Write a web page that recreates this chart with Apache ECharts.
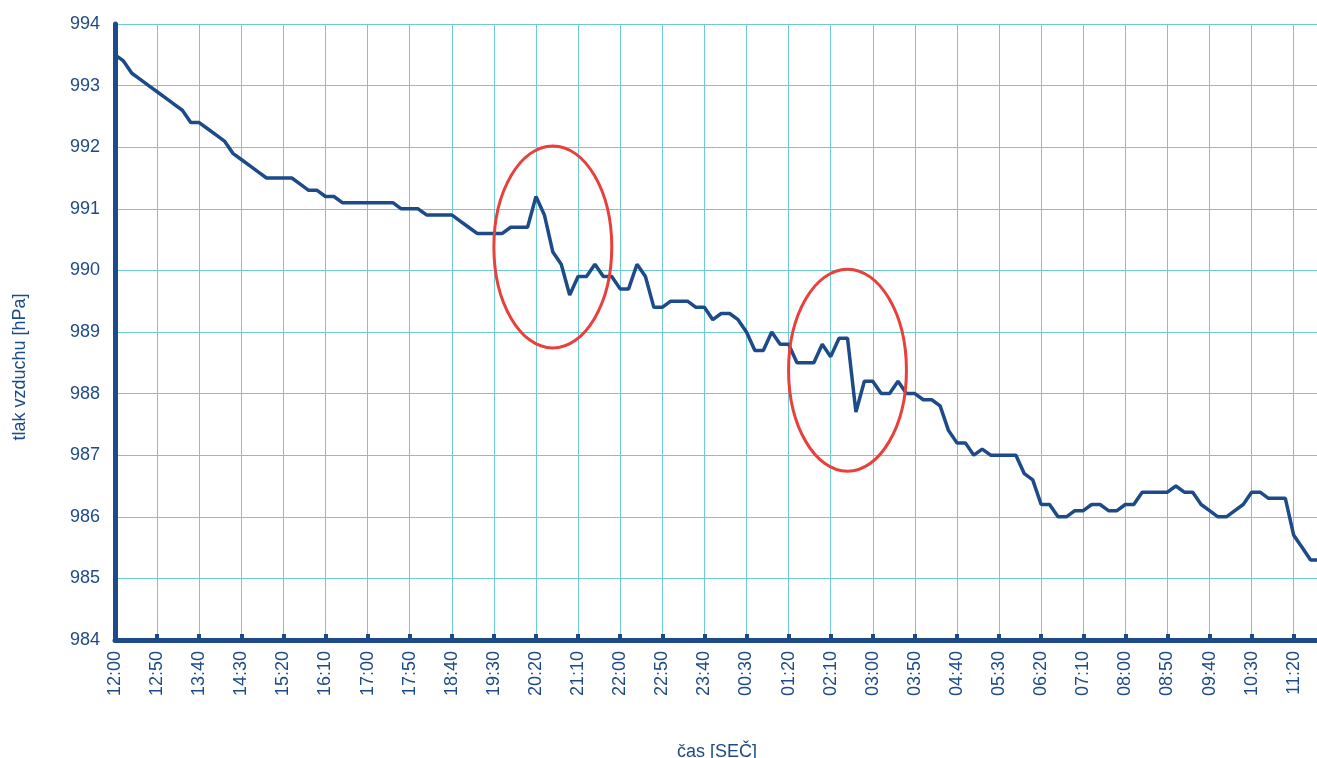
<!DOCTYPE html>
<html>
<head>
<meta charset="utf-8">
<script src="https://cdn.jsdelivr.net/npm/echarts@6/dist/echarts.min.js"></script>
<style>
html,body{margin:0;padding:0;background:#fff;overflow:hidden;}
#chart{width:1317px;height:758px;}
</style>
</head>
<body>
<div id="chart"></div>
<script>
var categories = [
"12:00","12:10","12:20","12:30","12:40","12:50",
"13:00","13:10","13:20","13:30","13:40","13:50",
"14:00","14:10","14:20","14:30","14:40","14:50",
"15:00","15:10","15:20","15:30","15:40","15:50",
"16:00","16:10","16:20","16:30","16:40","16:50",
"17:00","17:10","17:20","17:30","17:40","17:50",
"18:00","18:10","18:20","18:30","18:40","18:50",
"19:00","19:10","19:20","19:30","19:40","19:50",
"20:00","20:10","20:20","20:30","20:40","20:50",
"21:00","21:10","21:20","21:30","21:40","21:50",
"22:00","22:10","22:20","22:30","22:40","22:50",
"23:00","23:10","23:20","23:30","23:40","23:50",
"00:00","00:10","00:20","00:30","00:40","00:50",
"01:00","01:10","01:20","01:30","01:40","01:50",
"02:00","02:10","02:20","02:30","02:40","02:50",
"03:00","03:10","03:20","03:30","03:40","03:50",
"04:00","04:10","04:20","04:30","04:40","04:50",
"05:00","05:10","05:20","05:30","05:40","05:50",
"06:00","06:10","06:20","06:30","06:40","06:50",
"07:00","07:10","07:20","07:30","07:40","07:50",
"08:00","08:10","08:20","08:30","08:40","08:50",
"09:00","09:10","09:20","09:30","09:40","09:50",
"10:00","10:10","10:20","10:30","10:40","10:50",
"11:00","11:10","11:20","11:30","11:40","11:50"
];

var pressure = [
993.5,993.4,993.2,993.1,993.0,992.9,992.8,992.7,992.6,992.4,
992.4,992.3,992.2,992.1,991.9,991.8,991.7,991.6,991.5,991.5,
991.5,991.5,991.4,991.3,991.3,991.2,991.2,991.1,991.1,991.1,
991.1,991.1,991.1,991.1,991.0,991.0,991.0,990.9,990.9,990.9,
990.9,990.8,990.7,990.6,990.6,990.6,990.6,990.7,990.7,990.7,
991.2,990.9,990.3,990.1,989.6,989.9,989.9,990.1,989.9,989.9,
989.7,989.7,990.1,989.9,989.4,989.4,989.5,989.5,989.5,989.4,
989.4,989.2,989.3,989.3,989.2,989.0,988.7,988.7,989.0,988.8,
988.8,988.5,988.5,988.5,988.8,988.6,988.9,988.9,987.7,988.2,
988.2,988.0,988.0,988.2,988.0,988.0,987.9,987.9,987.8,987.4,
987.2,987.2,987.0,987.1,987.0,987.0,987.0,987.0,986.7,986.6,
986.2,986.2,986.0,986.0,986.1,986.1,986.2,986.2,986.1,986.1,
986.2,986.2,986.4,986.4,986.4,986.4,986.5,986.4,986.4,986.2,
986.1,986.0,986.0,986.1,986.2,986.4,986.4,986.3,986.3,986.3,
985.7,985.5,985.3,985.3
];

var yMin = 984, yMax = 994, yStep = 1;
var xLabelEvery = 5;
var yAxisTitle = "tlak vzduchu [hPa]";
var xAxisTitle = "čas [SEČ]";

// annotation ellipses in data coordinates: [categoryIndex, pressure, halfWidthInSteps, halfHeightInHPa]
var highlightEllipses = [
  [52.0, 990.38, 6.5, 1.64],
  [87.1, 988.38, 6.4, 1.64]
];

var dark = "#1d4a88";
var gridCol = "#6ccbd5";
var font = "Liberation Sans, Arial, sans-serif";

var chart = echarts.init(document.getElementById("chart"), null, {renderer: "canvas"});
chart.setOption({
  animation: false,
  backgroundColor: "#ffffff",
  grid: {left: 115, right: -2, top: 24, bottom: 118, containLabel: false, outerBoundsMode: "none"},
  xAxis: [{
    type: "category",
    data: categories,
    boundaryGap: false,
    name: xAxisTitle,
    nameLocation: "middle",
    nameGap: 103,
    nameTextStyle: {color: dark, fontSize: 18, fontFamily: font},
    axisLine: {show: true, onZero: false, lineStyle: {color: dark, width: 5}},
    axisTick: {show: true, inside: true, interval: xLabelEvery - 1, length: 6, lineStyle: {color: dark, width: 4}},
    axisLabel: {interval: xLabelEvery - 1, rotate: 90, margin: 11, color: dark, fontSize: 18, fontFamily: font},
    splitLine: {show: false},
    z: 8
  }, {
    type: "category",
    data: categories,
    boundaryGap: false,
    position: "bottom",
    axisLine: {show: false},
    axisTick: {show: false},
    axisLabel: {show: false},
    splitLine: {show: true, interval: xLabelEvery - 1, lineStyle: {color: gridCol, width: 1}},
    z: 1
  }],
  yAxis: [{
    type: "value",
    min: yMin,
    max: yMax,
    interval: yStep,
    axisLine: {show: true, lineStyle: {color: dark, width: 5}},
    axisTick: {show: false},
    axisLabel: {margin: 15, color: dark, fontSize: 18, fontFamily: font},
    splitLine: {show: false},
    z: 8
  }, {
    type: "value",
    min: yMin,
    max: yMax,
    interval: yStep,
    position: "left",
    axisLine: {show: false},
    axisTick: {show: false},
    axisLabel: {show: false},
    splitLine: {show: true, lineStyle: {color: gridCol, width: 1}},
    z: 1
  }],
  series: [{
    type: "line",
    xAxisIndex: 0,
    yAxisIndex: 0,
    data: pressure,
    showSymbol: false,
    symbol: "none",
    lineStyle: {color: dark, width: 3.5},
    z: 3
  }]
});

var gfx = [];
highlightEllipses.forEach(function (e) {
  var c = chart.convertToPixel({xAxisIndex: 0, yAxisIndex: 0}, [e[0], e[1]]);
  var a = chart.convertToPixel({xAxisIndex: 0, yAxisIndex: 0}, [e[0] + e[2], e[1] + e[3]]);
  gfx.push({
    type: "ellipse",
    shape: {cx: c[0], cy: c[1], rx: Math.abs(a[0] - c[0]), ry: Math.abs(c[1] - a[1])},
    style: {fill: "none", stroke: "#e8403b", lineWidth: 3},
    z: 10
  });
});
gfx.push({
  type: "text",
  x: 20, y: 367,
  rotation: Math.PI / 2,
  style: {text: yAxisTitle, fill: dark, fontSize: 18, fontFamily: font, align: "center", verticalAlign: "middle"},
  z: 10
});
chart.setOption({graphic: gfx});
</script>
</body>
</html>
